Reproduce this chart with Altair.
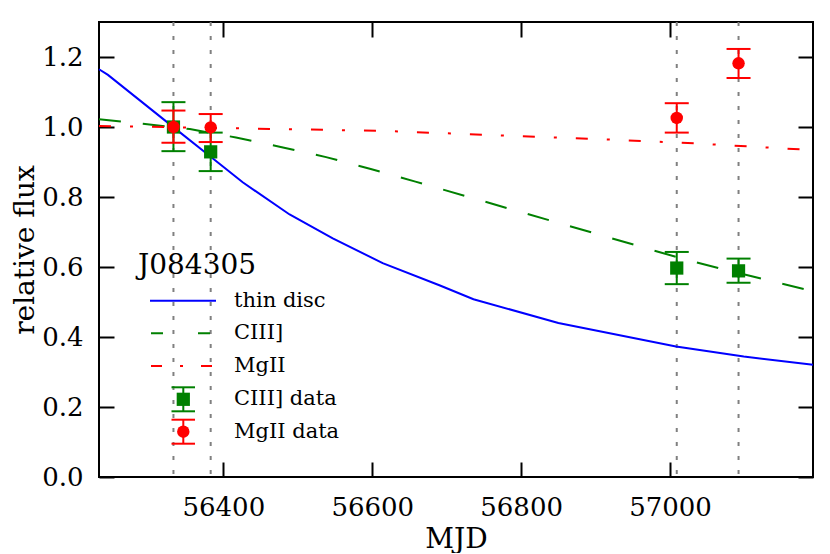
import altair as alt
import pandas as pd

# ---------------- data ----------------
obs_mjd = [56333, 56383, 57009, 57092]

ciii_val = [1.000, 0.929, 0.597, 0.589]
ciii_lo = [0.931, 0.874, 0.551, 0.555]
ciii_hi = [1.071, 0.984, 0.643, 0.624]

mgii_val = [1.000, 0.999, 1.026, 1.182]
mgii_lo = [0.955, 0.957, 0.984, 1.140]
mgii_hi = [1.047, 1.037, 1.068, 1.223]

disc_mjd = [56233, 56245, 56332, 56383, 56426, 56489, 56547, 56614, 56691, 56736, 56850, 57008, 57099, 57192]
disc_val = [1.165, 1.149, 1.001, 0.915, 0.842, 0.750, 0.682, 0.611, 0.547, 0.508, 0.440, 0.373, 0.344, 0.321]

ciii_model_mjd = [56233, 56292, 56355, 56417, 56477, 56538, 56598, 56658, 56899, 56959, 57021, 57080, 57141, 57192]
ciii_model_val = [1.022, 1.009, 0.994, 0.970, 0.943, 0.914, 0.880, 0.844, 0.696, 0.659, 0.621, 0.589, 0.557, 0.531]

mgii_model_mjd = [56233, 56614, 56932, 57035, 57192]
mgii_model_val = [1.003, 0.989, 0.963, 0.953, 0.934]

x_ticks = [56400, 56600, 56800, 57000]
y_ticks = [0.0, 0.2, 0.4, 0.6, 0.8, 1.0, 1.2]
x_domain = [56233, 57192]
y_domain = [0.0, 1.3]

legend_title = "J084305"
legend_labels = ["thin disc", "CIII]", "MgII", "CIII] data", "MgII data"]

# ---------------- styling ----------------
FONT = "DejaVu Serif"
BLUE = "#0000ff"
GREEN = "#008000"
RED = "#ff0000"
GRAY = "#808080"
W, H = 714, 455

obs = pd.DataFrame({"mjd": obs_mjd,
                    "c_val": ciii_val, "c_lo": ciii_lo, "c_hi": ciii_hi,
                    "m_val": mgii_val, "m_lo": mgii_lo, "m_hi": mgii_hi})
disc = pd.DataFrame({"mjd": disc_mjd, "val": disc_val})
cmod = pd.DataFrame({"mjd": ciii_model_mjd, "val": ciii_model_val})
mmod = pd.DataFrame({"mjd": mgii_model_mjd, "val": mgii_model_val})

xs = alt.Scale(domain=x_domain, nice=False, zero=False)
ys = alt.Scale(domain=y_domain, nice=False, zero=False)

common_axis = dict(offset=-15, tickSize=15, tickWidth=2, tickColor="black",
                   domain=False, grid=False, labelFont=FONT, labelFontSize=26,
                   labelColor="black", titleFont=FONT, titleFontSize=28,
                   titleFontWeight="normal", titleColor="black")

ax_bottom = alt.Axis(orient="bottom", values=x_ticks, format="d", labelPadding=17,
                     title="MJD", titlePadding=5, labelFlush=False, **common_axis)
ax_left = alt.Axis(orient="left", values=y_ticks, format=".1f", labelPadding=16,
                   title="relative flux", titlePadding=2, **common_axis)
ax_top = alt.Axis(orient="top", values=x_ticks, labels=False, title=None, **common_axis)
ax_right = alt.Axis(orient="right", values=y_ticks, labels=False, title=None, **common_axis)

vlines = alt.Chart(obs).mark_rule(color=GRAY, strokeDash=[4, 10], strokeWidth=2).encode(
    x=alt.X("mjd:Q", scale=xs, axis=None))

disc_line = alt.Chart(disc).mark_line(color=BLUE, strokeWidth=2).encode(
    x=alt.X("mjd:Q", scale=xs, axis=ax_top),
    y=alt.Y("val:Q", scale=ys, axis=ax_right))

cmod_line = alt.Chart(cmod).mark_line(color=GREEN, strokeWidth=2, strokeDash=[22, 22]).encode(
    x=alt.X("mjd:Q", scale=xs, axis=None),
    y=alt.Y("val:Q", scale=ys, axis=None))

mmod_line = alt.Chart(mmod).mark_line(color=RED, strokeWidth=2, strokeDash=[12, 19, 3, 19]).encode(
    x=alt.X("mjd:Q", scale=xs, axis=None),
    y=alt.Y("val:Q", scale=ys, axis=None))


def err_layers(lo, hi, val, color, shape, size, axes=False):
    base = alt.Chart(obs)
    xa = ax_bottom if axes else None
    ya = ax_left if axes else None
    bar = base.mark_rule(color=color, strokeWidth=2).encode(
        x=alt.X("mjd:Q", scale=xs, axis=None),
        y=alt.Y(f"{lo}:Q", scale=ys, axis=None), y2=f"{hi}:Q")
    cap_lo = base.mark_tick(color=color, orient="horizontal", size=24, thickness=2, opacity=1).encode(
        x=alt.X("mjd:Q", scale=xs, axis=None), y=alt.Y(f"{lo}:Q", scale=ys, axis=None))
    cap_hi = base.mark_tick(color=color, orient="horizontal", size=24, thickness=2, opacity=1).encode(
        x=alt.X("mjd:Q", scale=xs, axis=None), y=alt.Y(f"{hi}:Q", scale=ys, axis=None))
    pt = base.mark_point(color=color, shape=shape, filled=True, size=size, opacity=1).encode(
        x=alt.X("mjd:Q", scale=xs, axis=xa), y=alt.Y(f"{val}:Q", scale=ys, axis=ya))
    return [bar, cap_lo, cap_hi, pt]


ciii_layers = err_layers("c_lo", "c_hi", "c_val", GREEN, "square", 175, axes=True)
mgii_layers = err_layers("m_lo", "m_hi", "m_val", RED, "circle", 155)

# ---------------- legend (pixel positions inside plot area) ----------------
leg_df = pd.DataFrame({"k": [0]})
leg = []
leg.append(alt.Chart(leg_df).mark_text(font=FONT, fontSize=28, align="left", baseline="alphabetic",
                                       color="black").encode(
    x=alt.value(39), y=alt.value(252), text=alt.value(legend_title)))
row_y = [278.7, 311.3, 344.0, 377.3, 409.7]
for lab, yy in zip(legend_labels, row_y):
    leg.append(alt.Chart(leg_df).mark_text(font=FONT, fontSize=21, align="left", baseline="middle",
                                           color="black").encode(
        x=alt.value(135), y=alt.value(yy), text=alt.value(lab)))
leg.append(alt.Chart(leg_df).mark_rule(color=BLUE, strokeWidth=2).encode(
    x=alt.value(51), x2=alt.value(117), y=alt.value(row_y[0])))
leg.append(alt.Chart(leg_df).mark_rule(color=GREEN, strokeWidth=2, strokeDash=[12, 35]).encode(
    x=alt.value(52), x2=alt.value(116), y=alt.value(row_y[1])))
leg.append(alt.Chart(leg_df).mark_rule(color=RED, strokeWidth=2, strokeDash=[11, 18, 3, 18]).encode(
    x=alt.value(52), x2=alt.value(116), y=alt.value(row_y[2])))
for yy, col, shp, sz in [(row_y[3], GREEN, "square", 175), (row_y[4], RED, "circle", 155)]:
    leg.append(alt.Chart(leg_df).mark_rule(color=col, strokeWidth=2).encode(
        x=alt.value(84.3), y=alt.value(yy - 12), y2=alt.value(yy + 12)))
    for cy in (yy - 12, yy + 12):
        leg.append(alt.Chart(leg_df).mark_rule(color=col, strokeWidth=2).encode(
            x=alt.value(72.5), x2=alt.value(96), y=alt.value(cy)))
    leg.append(alt.Chart(leg_df).mark_point(color=col, shape=shp, filled=True, size=sz, opacity=1).encode(
        x=alt.value(84.3), y=alt.value(yy)))

chart = alt.layer(vlines, disc_line, cmod_line, mmod_line, *ciii_layers, *mgii_layers, *leg).resolve_axis(
    x="independent", y="independent"
).properties(
    width=W, height=H,
    autosize=alt.AutoSizeParams(type="none"),
    padding={"left": 91, "top": 14, "right": 9, "bottom": 76},
    background="white",
).configure_view(stroke="black", strokeWidth=2)

chart.save("out.html", embed_options={"renderer": "svg", "actions": False})
